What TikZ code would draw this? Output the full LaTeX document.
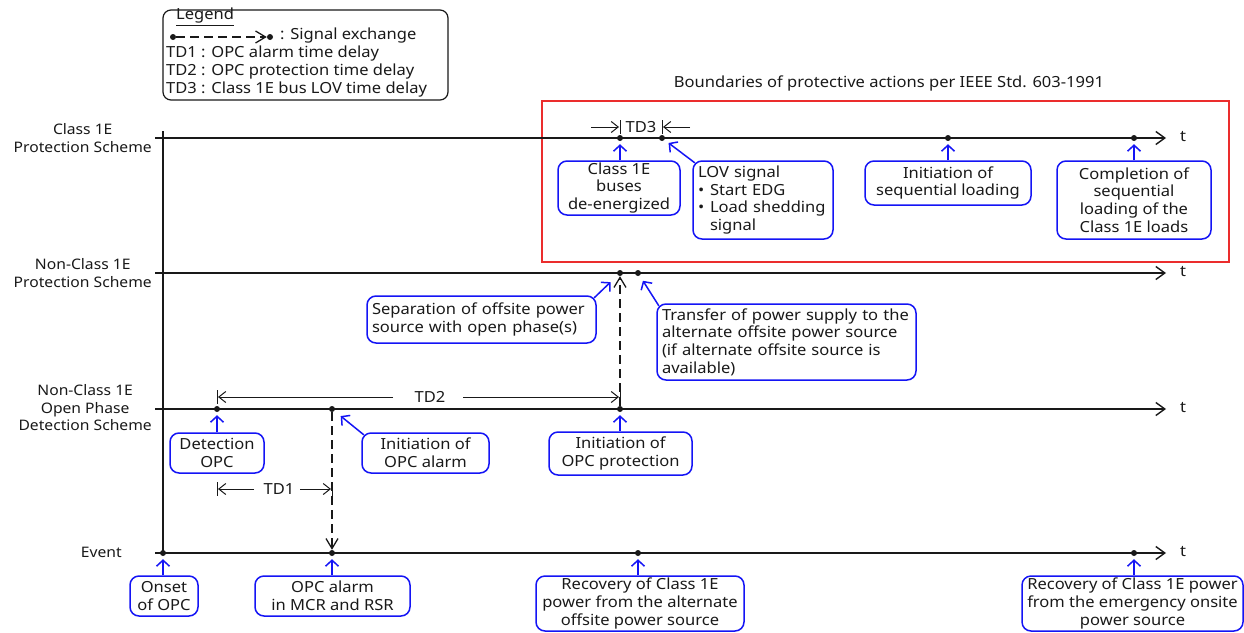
\documentclass[tikz,border=0pt]{standalone}
\usepackage{fontspec}
\setmainfont{Noto Sans}[FakeStretch=1.08]
\usetikzlibrary{arrows.meta}
\definecolor{bblue}{RGB}{20,20,245}
\definecolor{rred}{RGB}{235,45,45}
\definecolor{ink}{RGB}{25,25,25}
\begin{document}
\begin{tikzpicture}[x=1pt,y=-1pt,
  every node/.style={font=\fontsize{15.3}{17.7}\selectfont, text=ink},
  tl/.style={draw=ink, line width=1.4pt, -{Straight Barb[length=9pt,width=13pt]}},
  axisline/.style={draw=ink, line width=1.4pt},
  dot/.style={circle, fill=ink, inner sep=0pt, minimum size=6pt},
  bx/.style={draw=bblue, line width=1.5pt, rounded corners=9pt, inner sep=0pt, align=center},
  lbx/.style={draw=bblue, line width=1.5pt, rounded corners=9pt, inner sep=0pt, align=left},
  barr/.style={draw=bblue, line width=1.5pt, -{Straight Barb[length=6pt,width=13pt]}, shorten >=3pt},
  sig/.style={draw=ink, line width=1.3pt, dash pattern=on 9pt off 5pt, -{Straight Barb[length=10pt,width=12pt]}},
  td/.style={draw=ink, line width=1pt, -{Straight Barb[length=7pt,width=11pt]}},
  tdbar/.style={draw=ink, line width=1pt},
  rowlab/.style={anchor=east, align=center, inner sep=0pt, font=\fontsize{14.5}{17.5}\selectfont}
]
\useasboundingbox (0,0) rectangle (1244,632);

% ---------- legend ----------
\node[draw=ink, line width=1.2pt, rounded corners=8pt, minimum width=285pt, minimum height=90pt, inner sep=0pt] (leg) at (305.5,55) {};
\node[anchor=mid west, inner sep=0pt] (lgt) at (176,17) {\underline{Legend}};
\node[dot] (ls) at (173,37) {};
\node[dot] (le) at (270,37) {};
\draw[sig] (ls) -- (le);
\node[anchor=mid west, inner sep=0pt] (l0) at (280,37) {: Signal exchange};
\node[anchor=mid west, inner sep=0pt] (l1) at (166,55) {TD1 : OPC alarm time delay};
\node[anchor=mid west, inner sep=0pt] (l2) at (166,73) {TD2 : OPC protection time delay};
\node[anchor=mid west, inner sep=0pt] (l3) at (166,91) {TD3 : Class 1E bus LOV time delay};

% ---------- title and red box ----------
\node (title) at (889,83) {Boundaries of protective actions per IEEE Std. 603-1991};
\node[draw=rred, line width=1.3pt, minimum width=687pt, minimum height=161pt, inner sep=0pt] (redbox) at (885.5,181.5) {};

% ---------- axes ----------
\coordinate (ax0) at (163,131);
\coordinate (ax1) at (163,553);
\draw[axisline] (ax0) -- (ax1);
\foreach \yy in {138,273,409,553}{
  \coordinate (s\yy) at (155,\yy);
  \coordinate (e\yy) at (1166,\yy);
  \draw[tl] (s\yy) -- (e\yy);
  \node (t\yy) at (1183,\yy-1) {t};
}

% ---------- row labels ----------
\node[rowlab] (r1) at (152,138) {Class 1E\\Protection Scheme};
\node[rowlab] (r2) at (152,273) {Non-Class 1E\\Protection Scheme};
\node[rowlab] (r3) at (152,408) {Non-Class 1E\\Open Phase\\Detection Scheme};
\node[rowlab] (r4) at (122,552) {Event};

% ---------- dots ----------
\node[dot] (c1) at (620,138) {};
\node[dot] (c2) at (662,138) {};
\node[dot] (c3) at (948,138) {};
\node[dot] (c4) at (1134,138) {};
\node[dot] (n1) at (620,273) {};
\node[dot] (n2) at (638,273) {};
\node[dot] (o1) at (217,409) {};
\node[dot] (o2) at (332,409) {};
\node[dot] (o3) at (620,409) {};
\node[dot] (v1) at (163,553) {};
\node[dot] (v2) at (332,553) {};
\node[dot] (v3) at (638,553) {};
\node[dot] (v4) at (1134,553) {};

% ---------- TD3 ----------
\coordinate (td3a) at (591,127); \coordinate (td3b) at (619,127);
\coordinate (td3c) at (690,127); \coordinate (td3d) at (663,127);
\draw[td] (td3a) -- (td3b);
\draw[td] (td3c) -- (td3d);
\draw[tdbar] (620,120) -- (620,134);
\draw[tdbar] (662,120) -- (662,134);
\node (td3) at (641,127) {TD3};

% ---------- TD2 ----------
\coordinate (td2a) at (393,397); \coordinate (td2b) at (218,397);
\coordinate (td2c) at (463,397); \coordinate (td2d) at (619,397);
\draw[td] (td2a) -- (td2b);
\draw[td] (td2c) -- (td2d);
\draw[tdbar] (217,390) -- (217,404);
\draw[tdbar] (620,390) -- (620,404);
\node (td2) at (430,397) {TD2};

% ---------- TD1 ----------
\coordinate (td1a) at (254,489); \coordinate (td1b) at (218,489);
\coordinate (td1c) at (300,489); \coordinate (td1d) at (331,489);
\draw[td] (td1a) -- (td1b);
\draw[td] (td1c) -- (td1d);
\draw[tdbar] (217,482) -- (217,496);
\draw[tdbar] (332,482) -- (332,496);
\node (td1) at (279,489) {TD1};

% ---------- signal exchanges ----------
\draw[sig] (o3) -- (n1);
\draw[sig] (o2) -- (v2);

% ---------- boxes: Class 1E ----------
\node[bx, minimum width=122pt, minimum height=54pt] (b1) at (619,188) {Class 1E\\buses\\de-energized};
\node[lbx, minimum width=140pt, minimum height=78pt, text width=130pt] (b2) at (763,200)
  {LOV signal\\\makebox[12pt][l]{\textbullet}Start EDG\\\makebox[12pt][l]{\textbullet}Load shedding\\\hspace*{12pt}signal};
\node[bx, minimum width=166pt, minimum height=44pt] (b3) at (948,183) {Initiation of\\sequential loading};
\node[bx, minimum width=154pt, minimum height=78pt] (b4) at (1134,200) {Completion of\\sequential\\loading of the\\Class 1E loads};
\draw[barr] (c1 |- b1.north) -- (c1);
\draw[barr, shorten >=5pt] ([xshift=2.6pt,yshift=-2.6pt]b2.north west) -- (c2);
\draw[barr] (c3 |- b3.north) -- (c3);
\draw[barr] (c4 |- b4.north) -- (c4);

% ---------- boxes: Non-Class 1E protection ----------
\node[lbx, minimum width=229pt, minimum height=47pt, text width=219pt] (b5) at (481.5,319.5)
  {Separation of offsite power\\source with open phase(s)};
\node[lbx, minimum width=259pt, minimum height=76pt, text width=249pt] (b6) at (786.5,342)
  {Transfer of power supply to the\\alternate offsite power source\\(if alternate offsite source is\\available)};
\draw[barr, shorten >=10pt] ([xshift=-2.6pt,yshift=-2.6pt]b5.north east) -- (n1);
\draw[barr, shorten >=6pt] ([xshift=2.6pt,yshift=-2.6pt]b6.north west) -- (n2);

% ---------- boxes: open phase detection ----------
\node[bx, minimum width=94pt, minimum height=40pt] (b7) at (217,453) {Detection\\OPC};
\node[bx, minimum width=127pt, minimum height=40pt] (b8) at (425.5,453) {Initiation of\\OPC alarm};
\node[bx, minimum width=143pt, minimum height=43pt] (b9) at (620.5,453.5) {Initiation of\\OPC protection};
\draw[barr] (o1 |- b7.north) -- (o1);
\draw[barr, shorten >=8pt] ([xshift=2.6pt,yshift=-2.6pt]b8.north west) -- (o2);
\draw[barr] (o3 |- b9.north) -- (o3);

% ---------- boxes: event ----------
\node[bx, minimum width=68pt, minimum height=40pt] (b10) at (164,596) {Onset\\of OPC};
\node[bx, minimum width=155pt, minimum height=40pt] (b11) at (332.5,596) {OPC alarm\\in MCR and RSR};
\node[bx, minimum width=208pt, minimum height=55pt] (b12) at (640,603.5) {Recovery of Class 1E\\power from the alternate\\offsite power source};
\node[bx, minimum width=221pt, minimum height=55pt] (b13) at (1132.5,603.5) {Recovery of Class 1E power\\from the emergency onsite\\power source};
\draw[barr] (v1 |- b10.north) -- (v1);
\draw[barr] (v2 |- b11.north) -- (v2);
\draw[barr] (v3 |- b12.north) -- (v3);
\draw[barr] (v4 |- b13.north) -- (v4);
\end{tikzpicture}
\end{document}
